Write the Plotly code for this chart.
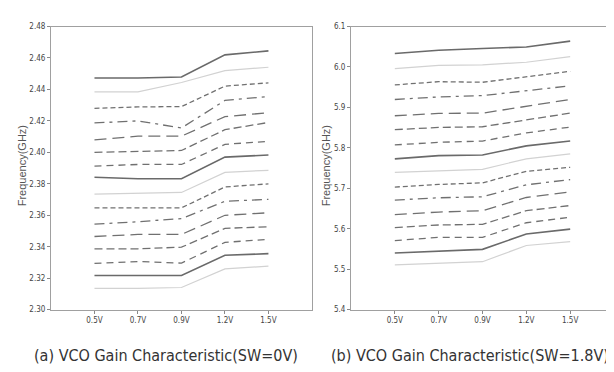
import plotly.graph_objects as go

categories = ["0.5V", "0.7V", "0.9V", "1.2V", "1.5V"]

# SW = 0V, 16 curves (top to bottom), GHz
sw0_series = [
    [2.4473, 2.4473, 2.4479, 2.4620, 2.4645],
    [2.4384, 2.4384, 2.4444, 2.4520, 2.4541],
    [2.4280, 2.4289, 2.4291, 2.4421, 2.4442],
    [2.4187, 2.4200, 2.4155, 2.4330, 2.4355],
    [2.4080, 2.4103, 2.4103, 2.4227, 2.4252],
    [2.4000, 2.4007, 2.4012, 2.4144, 2.4190],
    [2.3912, 2.3923, 2.3923, 2.4051, 2.4070],
    [2.3842, 2.3832, 2.3832, 2.3970, 2.3983],
    [2.3734, 2.3739, 2.3745, 2.3873, 2.3886],
    [2.3647, 2.3647, 2.3647, 2.3780, 2.3800],
    [2.3544, 2.3559, 2.3579, 2.3689, 2.3701],
    [2.3465, 2.3478, 2.3478, 2.3600, 2.3616],
    [2.3387, 2.3387, 2.3397, 2.3517, 2.3527],
    [2.3294, 2.3306, 2.3296, 2.3428, 2.3447],
    [2.3217, 2.3217, 2.3217, 2.3346, 2.3356],
    [2.3135, 2.3135, 2.3141, 2.3259, 2.3277],
]

# SW = 1.8V, 16 curves (top to bottom), GHz
sw18_series = [
    [6.0334, 6.0415, 6.0455, 6.0495, 6.0639],
    [5.9958, 6.0038, 6.0054, 6.0117, 6.0254],
    [5.9557, 5.9636, 5.9622, 5.9757, 5.9893],
    [5.9196, 5.9260, 5.9292, 5.9412, 5.9533],
    [5.8794, 5.8852, 5.8859, 5.9035, 5.9196],
    [5.8450, 5.8505, 5.8522, 5.8691, 5.8859],
    [5.8073, 5.8137, 5.8169, 5.8370, 5.8514],
    [5.7728, 5.7808, 5.7825, 5.8049, 5.8169],
    [5.7392, 5.7430, 5.7470, 5.7728, 5.7849],
    [5.7031, 5.7096, 5.7135, 5.7420, 5.7520],
    [5.6710, 5.6766, 5.6790, 5.7087, 5.7216],
    [5.6350, 5.6413, 5.6446, 5.6773, 5.6910],
    [5.6028, 5.6093, 5.6110, 5.6446, 5.6574],
    [5.5708, 5.5788, 5.5788, 5.6149, 5.6285],
    [5.5402, 5.5450, 5.5491, 5.5869, 5.5990],
    [5.5106, 5.5147, 5.5186, 5.5587, 5.5684],
]

left_ticks = [2.30, 2.32, 2.34, 2.36, 2.38, 2.40, 2.42, 2.44, 2.46, 2.48]
right_ticks = [5.4, 5.5, 5.6, 5.7, 5.8, 5.9, 6.0, 6.1]
y_title = "Frequency(GHz)"
captions = ["(a) VCO Gain Characteristic(SW=0V)", "(b) VCO Gain Characteristic(SW=1.8V)"]

# line styles cycling through the 7-curve pattern
styles = [
    dict(color="#6a6a6a", dash="solid", width=1.6),
    dict(color="#d2d2d2", dash="solid", width=1.2),
    dict(color="#707070", dash="5px,3px", width=1.3),
    dict(color="#707070", dash="10px,5px,3px,5px", width=1.3),
    dict(color="#707070", dash="12px,6px", width=1.3),
    dict(color="#707070", dash="8px,4px", width=1.3),
    dict(color="#707070", dash="7px,5px", width=1.3),
]

fig = go.Figure()

for i, ys in enumerate(sw0_series):
    fig.add_trace(go.Scatter(x=categories, y=ys, mode="lines", line=styles[i % 7],
                             xaxis="x", yaxis="y", showlegend=False, hoverinfo="skip"))
for i, ys in enumerate(sw18_series):
    fig.add_trace(go.Scatter(x=categories, y=ys, mode="lines", line=styles[i % 7],
                             xaxis="x2", yaxis="y2", showlegend=False, hoverinfo="skip"))

narrow = "DejaVu Sans Condensed, Liberation Sans"
tickfont = dict(family=narrow, size=8, color="#444")
axis_common = dict(showgrid=False, zeroline=False, showline=True, linecolor="#a0a0a0",
                   linewidth=1, mirror=True, ticks="outside", ticklen=3, tickcolor="#888",
                   tickfont=tickfont)

fig.update_layout(
    width=614, height=372,
    margin=dict(l=0, r=0, t=0, b=0),
    paper_bgcolor="white", plot_bgcolor="white",
    xaxis=dict(domain=[0.070, 0.495], type="category", range=[-1, 5], categoryorder="array",
               categoryarray=categories, anchor="y", **axis_common),
    yaxis=dict(domain=[0.180, 0.960], range=[2.30, 2.48], tickvals=left_ticks,
               ticktext=[f"{v:.2f}" for v in left_ticks], anchor="x", **axis_common),
    xaxis2=dict(domain=[0.5586, 0.987], type="category", range=[-1, 5], categoryorder="array",
                categoryarray=categories, anchor="y2", **axis_common),
    yaxis2=dict(domain=[0.180, 0.960], range=[5.4, 6.1], tickvals=right_ticks,
                ticktext=[f"{v:.1f}" for v in right_ticks], anchor="x2", **axis_common),
    annotations=[
        dict(text=y_title, xref="paper", yref="paper", x=14 / 614, y=0.575, textangle=-90,
             xanchor="center", yanchor="middle",
             showarrow=False, font=dict(family="Liberation Sans, Arial", size=11, color="#555")),
        dict(text=y_title, xref="paper", yref="paper", x=318 / 614, y=0.575, textangle=-90,
             xanchor="center", yanchor="middle",
             showarrow=False, font=dict(family="Liberation Sans, Arial", size=11, color="#555")),
        dict(text=captions[0], xref="paper", yref="paper", x=158 / 614, y=1 - 352 / 372,
             xanchor="center", yanchor="middle",
             showarrow=False, font=dict(family=narrow, size=16, color="#333")),
        dict(text=captions[1], xref="paper", yref="paper", x=462 / 614, y=1 - 352 / 372,
             xanchor="center", yanchor="middle",
             showarrow=False, font=dict(family=narrow, size=16, color="#333")),
    ],
)

fig.write_html("out.html")
